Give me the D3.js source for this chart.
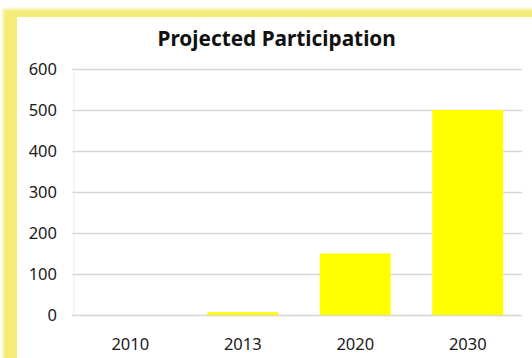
<!DOCTYPE html>
<html>
<head>
<meta charset="utf-8">
<script src="https://cdn.jsdelivr.net/npm/d3@7"></script>
<style>
  html, body { margin: 0; padding: 0; background: #ffffff; }
  svg { display: block; }
</style>
</head>
<body>
<script>
// Chart data
const title = "Projected Participation";
const years = ["2010", "2013", "2020", "2030"];
const participation = [0, 7, 150, 500];
const yTicks = [0, 100, 200, 300, 400, 500, 600];

const W = 532, H = 358;
const svg = d3.select("body").append("svg").attr("width", W).attr("height", H);

// soft glow for the frame
const defs = svg.append("defs");
defs.append("filter").attr("id", "soft").attr("x", "-10%").attr("y", "-10%").attr("width", "120%").attr("height", "120%")
  .append("feGaussianBlur").attr("stdDeviation", 1.6);

// yellow frame panel
svg.append("rect")
  .attr("x", 3).attr("y", 9).attr("width", 560).attr("height", 380)
  .attr("fill", "#f4ec78").attr("filter", "url(#soft)");
svg.append("rect")
  .attr("x", 17).attr("y", 17).attr("width", 560).attr("height", 380)
  .attr("fill", "#ffffff");

const font = "'Noto Sans', 'Open Sans', sans-serif";

const x = d3.scaleBand().domain(years).range([74, 524]).paddingInner(0.37).paddingOuter(0.185);
const y = d3.scaleLinear().domain([0, 600]).range([315, 69]);

// gridlines
const yAxis = d3.axisLeft(y).tickValues(yTicks).tickSize(-(522 - 72)).tickPadding(15);
const gy = svg.append("g").attr("transform", "translate(72,0)").call(yAxis);
gy.select(".domain").remove();
gy.selectAll(".tick line").attr("stroke", "#d6d6d6").attr("stroke-width", 1.5);
gy.selectAll(".tick text").attr("font-family", font).attr("font-size", 16.5).attr("fill", "#1a1a1a").attr("x", -15);

// faint vertical axis line
svg.append("line").attr("x1", 74).attr("x2", 74).attr("y1", y(600)).attr("y2", y(0))
  .attr("stroke", "#ececec").attr("stroke-width", 1);

// bars
svg.append("g").selectAll("rect").data(participation).join("rect")
  .attr("x", (d, i) => x(years[i]))
  .attr("width", x.bandwidth())
  .attr("y", d => y(d))
  .attr("height", d => y(0) - y(d))
  .attr("fill", "#ffff00");

// x axis labels
const xAxis = d3.axisBottom(x).tickSize(0).tickPadding(0);
const gx = svg.append("g").attr("transform", "translate(0,338)").call(xAxis);
gx.select(".domain").remove();
gx.selectAll(".tick text").attr("font-family", font).attr("font-size", 16.5).attr("fill", "#1a1a1a");

// title
svg.append("text")
  .attr("x", 276.7).attr("y", 46)
  .attr("text-anchor", "middle")
  .attr("font-family", font).attr("font-weight", "bold").attr("font-size", 20.8)
  .attr("fill", "#111111")
  .text(title);
</script>
</body>
</html>
